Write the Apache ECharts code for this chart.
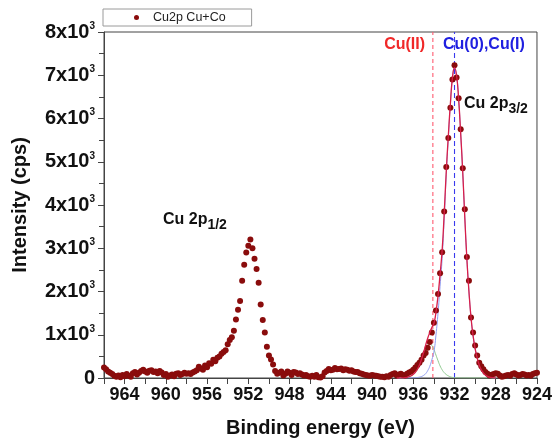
<!DOCTYPE html>
<html>
<head>
<meta charset="utf-8">
<script src="https://cdn.jsdelivr.net/npm/echarts@6/dist/echarts.min.js"></script>
<style>
html,body{margin:0;padding:0;background:#fff;}
#chart{width:555px;height:443px;}
</style>
</head>
<body>
<div id="chart"></div>
<script>
// Measured spectrum: binding energy grid (eV) and intensity (cps)
const energyStart = 966.0;
const energyStep = 0.2;
const intensity = [
  240,200,150,120,90,50,30,60,20,70,
  40,90,50,30,110,140,80,120,160,190,
  150,120,170,180,140,150,110,160,130,70,
  90,30,60,80,40,100,110,70,90,120,
  100,110,90,130,150,180,260,220,190,290,
  250,340,330,420,390,470,500,560,600,640,
  780,880,940,1090,1350,1580,1780,2250,2620,2900,
  3060,3200,3000,2760,2520,2200,1700,1340,1050,720,
  520,430,310,160,100,120,150,60,100,150,
  120,70,140,130,90,110,80,60,70,40,
  30,50,30,70,20,10,40,130,160,210,
  180,190,230,200,210,220,180,200,190,170,
  180,150,140,140,110,100,80,70,60,50,
  70,60,50,40,30,30,20,40,30,70,
  90,110,60,80,100,70,60,100,130,150,
  190,240,300,350,420,520,580,700,830,1050,
  1280,1560,1940,2420,2910,3850,4880,5550,6250,6900,
  7230,6950,6470,5750,4850,3900,2800,2250,1400,1050,
  750,520,350,270,200,140,100,60,75,90,
  110,100,60,30,40,60,70,50,90,110,
  80,60,70,90,80,60,70,50,90,110,
  120
];

// Fit curves of the Cu 2p3/2 region (937.6 -> 928.0 eV)
const fitStart = 937.6;
const fitStep = 0.2;
const fitEnvelope = [0,0,2,4,8,16,30,53,85,133,202,300,435,590,760,920,1050,1170,1260,1520,1900,2400,2950,3805,4780,5600,6348,6945,7178,6994,6447,5650,4750,3700,2750,2000,1400,980,680,460,300,190,120,70,40,20,10,5,0];
const fitCu0CuI = [0,0,0,0,0,1,2,3,5,8,12,20,35,60,100,170,270,420,600,990,1500,2120,2760,3680,4700,5550,6320,6930,7170,6990,6445,5650,4750,3700,2750,2000,1400,980,680,460,300,190,120,70,40,20,10,5,0];
const fitCuII = [0,0,2,4,8,15,28,50,80,125,190,280,400,530,660,750,780,750,660,530,400,280,190,125,80,50,28,15,8,4,2,0,0,0,0,0,0,0,0,0,0,0,0,0,0,0,0,0,0];

// Reference positions (eV)
const refCuII = 934.1;
const refCu0 = 932.0;

// Axis ticks
const xMin = 924, xMax = 966, xTickStep = 2, xLabelStep = 4;
const yMin = 0, yMax = 8000, yTickStep = 1000;

function r1(v){ return Math.round(v*10)/10; }
const scatterData = intensity.map((v,i)=>[r1(energyStart - i*energyStep), v]);
const fitPairs = arr => arr.map((v,i)=>[r1(fitStart - i*fitStep), v]);
const vline = e => [[e, yMin], [e, yMax]];

const chart = echarts.init(document.getElementById('chart'));
const bold = {fontFamily:'Liberation Sans, Arial, sans-serif', fontWeight:'bold', color:'#111'};

chart.setOption({
  animation:false,
  backgroundColor:'#fff',
  grid:{left:104, right:17.5, top:32, bottom:59, show:true, borderColor:'#444', borderWidth:1, backgroundColor:'transparent'},
  legend:{
    left:103, top:9, orient:'horizontal',
    data:['Cu2p Cu+Co'],
    borderColor:'#9a9a9a', borderWidth:1, borderRadius:0,
    padding:[2,26,2,31],
    itemWidth:5, itemHeight:5, itemGap:5,
    textStyle:{fontFamily:'Liberation Sans, Arial, sans-serif', fontSize:12.5, color:'#222', padding:[0,0,0,9]}
  },
  xAxis:{
    type:'value', inverse:true, min:xMin, max:xMax, interval:xTickStep,
    axisLine:{show:true, onZero:false, lineStyle:{color:'#444', width:1}},
    axisTick:{show:true, inside:false, length:6, lineStyle:{color:'#444'}},
    splitLine:{show:false},
    axisLabel:{
      ...bold, fontSize:18, margin:8,
      formatter: v => ((v - xMin) % xLabelStep === 0 && v < xMax) ? String(v) : ''
    },
    name:'Binding energy (eV)', nameLocation:'middle', nameGap:40,
    nameTextStyle:{...bold, fontSize:20}
  },
  yAxis:{
    type:'value', min:yMin, max:yMax, interval:yTickStep,
    axisLine:{show:true, lineStyle:{color:'#444', width:1}},
    axisTick:{show:true, inside:false, length:6, lineStyle:{color:'#444'}},
    minorTick:{show:true, splitNumber:2, length:5, lineStyle:{color:'#444'}},
    splitLine:{show:false},
    axisLabel:{
      margin:9,
      formatter: v => v === 0 ? '{b|0}' : '{b|' + (v/1000) + 'x10}{s|3}',
      rich:{
        b:{...bold, fontSize:20},
        s:{...bold, fontSize:10, padding:[0,0,12,0]}
      }
    },
    name:'Intensity (cps)', nameLocation:'middle', nameGap:74, nameRotate:90,
    nameTextStyle:{...bold, fontSize:20}
  },
  series:[
    {
      name:'Cu(II) ref', type:'line', data:vline(refCuII), showSymbol:false, symbol:'none',
      lineStyle:{color:'#ff5a70', type:[4,3], width:1.1}, z:1, silent:true
    },
    {
      name:'Cu(0) ref', type:'line', data:vline(refCu0), showSymbol:false, symbol:'none',
      lineStyle:{color:'#3a3aee', type:[5,3], width:1.1}, z:1, silent:true
    },
    {
      name:'Cu(II) component', type:'line', data:fitPairs(fitCuII), showSymbol:false, symbol:'none',
      smooth:true, lineStyle:{color:'#8fc98f', width:1}, z:2, silent:true
    },
    {
      name:'Cu(0),Cu(I) component', type:'line', data:fitPairs(fitCu0CuI), showSymbol:false, symbol:'none',
      smooth:true, lineStyle:{color:'#8f9cf0', width:1}, z:2, silent:true
    },
    {
      name:'Cu2p Cu+Co', type:'scatter', data:scatterData, symbol:'circle', symbolSize:6,
      itemStyle:{color:'#8a0c0c', opacity:1}, z:3
    },
    {
      name:'Envelope', type:'line', data:fitPairs(fitEnvelope), showSymbol:false, symbol:'none',
      smooth:true, lineStyle:{color:'#d81e48', width:1.3}, z:4, silent:true
    }
  ],
  graphic:[
    {type:'text', x:425, y:45, style:{text:'Cu(II)', fill:'#f02828', font:'bold 16px "Liberation Sans", Arial', textAlign:'right', textVerticalAlign:'middle'}},
    {type:'text', x:443, y:45, style:{text:'Cu(0),Cu(I)', fill:'#2020e0', font:'bold 16px "Liberation Sans", Arial', textAlign:'left', textVerticalAlign:'middle'}},
    {type:'text', x:464, y:104, style:{
      text:'{a|Cu 2p}{b|3/2}', textAlign:'left', textVerticalAlign:'middle',
      rich:{a:{fontFamily:'Liberation Sans, Arial', fontWeight:'bold', fontSize:16, fill:'#111', color:'#111'},
            b:{fontFamily:'Liberation Sans, Arial', fontWeight:'bold', fontSize:14, color:'#111', fill:'#111', padding:[10,0,0,0]}}
    }},
    {type:'text', x:163, y:220, style:{
      text:'{a|Cu 2p}{b|1/2}', textAlign:'left', textVerticalAlign:'middle',
      rich:{a:{fontFamily:'Liberation Sans, Arial', fontWeight:'bold', fontSize:16, fill:'#111', color:'#111'},
            b:{fontFamily:'Liberation Sans, Arial', fontWeight:'bold', fontSize:14, color:'#111', fill:'#111', padding:[10,0,0,0]}}
    }}
  ]
});
</script>
</body>
</html>
